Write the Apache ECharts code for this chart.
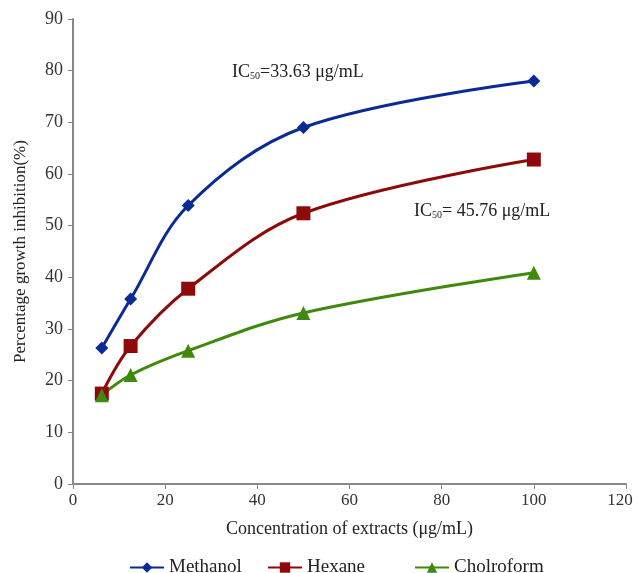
<!DOCTYPE html>
<html>
<head>
<meta charset="utf-8">
<script src="https://cdn.jsdelivr.net/npm/echarts@6/dist/echarts.min.js"></script>
<style>
  html, body, #main { margin: 0; padding: 0; width: 633px; height: 573px; background: #fff; overflow: hidden; }
</style>
</head>
<body>
<div id="main"></div>
<script>
// concentrations (μg/mL)
var conc = [6.25, 12.5, 25, 50, 100];
var methanol = [26.3, 35.8, 53.9, 69.0, 78.0];
var hexane = [17.5, 26.7, 37.8, 52.4, 62.8];
var chloroform = [17.2, 21.1, 25.8, 33.1, 40.9];

function pairs(ys) {
  return conc.map(function (x, i) { return [x, ys[i]]; });
}

var font = "Liberation Serif";
var legendText = { fontFamily: font, fontSize: 19, color: "#222" };
var myChart = echarts.init(document.getElementById("main"));

// one legend per item so the uneven spacing of the original can be kept
function oneLegend(name, left) {
  return {
    data: [name],
    left: left,
    top: 553,
    itemWidth: 34,
    itemHeight: 13,
    itemGap: 0,
    textStyle: legendText
  };
}

var option = {
  backgroundColor: "#fff",
  animation: false,
  textStyle: { fontFamily: font },
  grid: { left: 73, right: 7, top: 19, bottom: 89, outerBoundsMode: "none", containLabel: false },
  legend: [
    oneLegend("Methanol", 124),
    oneLegend("Hexane", 262),
    oneLegend("Cholroform", 409)
  ],
  xAxis: {
    type: "value",
    min: 0,
    max: 120,
    interval: 20,
    name: "Concentration of extracts (μg/mL)",
    nameLocation: "middle",
    nameGap: 36,
    nameMoveOverlap: false,
    nameTextStyle: { fontFamily: font, fontSize: 18, color: "#222" },
    axisLine: { lineStyle: { color: "#888", width: 2 } },
    axisTick: { show: true, length: 5, lineStyle: { color: "#888" } },
    axisLabel: {
      fontFamily: font, fontSize: 17, color: "#333", margin: 8,
      // last label sits a bit left so it stays inside the page
      formatter: function (v) { return v === 120 ? "{e|" + v + "}" : String(v); },
      rich: { e: { fontFamily: font, fontSize: 17, color: "#333", padding: [0, 12, 0, 0] } }
    },
    splitLine: { show: false }
  },
  yAxis: {
    type: "value",
    min: 0,
    max: 90,
    interval: 10,
    name: "Percentage growth inhibition(%)",
    nameLocation: "middle",
    nameGap: 44,
    nameMoveOverlap: false,
    nameTextStyle: { fontFamily: font, fontSize: 17, color: "#222" },
    axisLine: { show: true, lineStyle: { color: "#888", width: 2 } },
    axisTick: { show: true, length: 5, lineStyle: { color: "#888" } },
    axisLabel: { fontFamily: font, fontSize: 18, color: "#333", margin: 10 },
    splitLine: { show: false }
  },
  graphic: [
    {
      type: "text",
      left: 232,
      top: 63,
      style: {
        text: "{n|IC}{s|50}{n|=33.63 μg/mL}",
        rich: {
          n: { fontFamily: font, fontSize: 18, fill: "#222" },
          s: { fontFamily: font, fontSize: 10, fill: "#222", verticalAlign: "bottom", padding: [8, 0, 0, 0] }
        }
      }
    },
    {
      type: "text",
      left: 414,
      top: 202,
      style: {
        text: "{n|IC}{s|50}{n|= 45.76 μg/mL}",
        rich: {
          n: { fontFamily: font, fontSize: 18, fill: "#222" },
          s: { fontFamily: font, fontSize: 10, fill: "#222", verticalAlign: "bottom", padding: [8, 0, 0, 0] }
        }
      }
    }
  ],
  series: [
    {
      name: "Methanol",
      type: "line",
      smooth: 0.35,
      symbol: "diamond",
      symbolSize: 13,
      itemStyle: { color: "#0a2a96" },
      lineStyle: { color: "#0a2a96", width: 3 },
      data: pairs(methanol)
    },
    {
      name: "Hexane",
      type: "line",
      smooth: 0.35,
      symbol: "rect",
      symbolSize: 14,
      itemStyle: { color: "#8e0a0a" },
      lineStyle: { color: "#8e0a0a", width: 3 },
      data: pairs(hexane)
    },
    {
      name: "Cholroform",
      type: "line",
      smooth: 0.35,
      symbol: "triangle",
      symbolSize: 14,
      itemStyle: { color: "#3f8a0c" },
      lineStyle: { color: "#3f8a0c", width: 3 },
      data: pairs(chloroform)
    }
  ]
};

myChart.setOption(option);
window.onresize = myChart.resize;
</script>
</body>
</html>
